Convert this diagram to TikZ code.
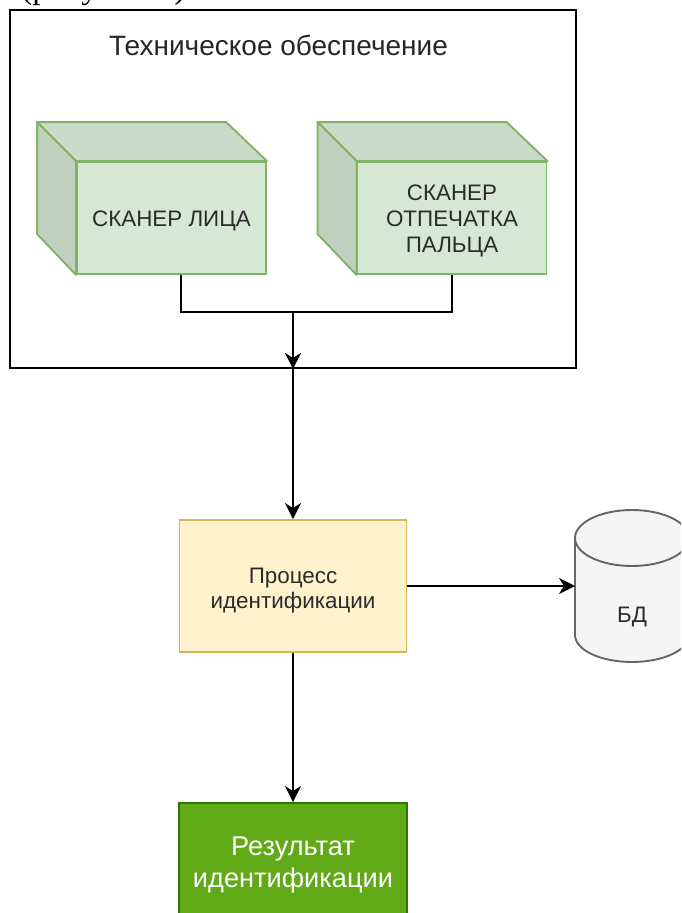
\documentclass[tikz,border=0pt]{standalone}
\usepackage{fontspec}
\setmainfont{Liberation Sans}
\newfontfamily\captionserif{Liberation Serif}
\usetikzlibrary{arrows.meta,calc}

\definecolor{cubeFill}{HTML}{D5E8D4}
\definecolor{cubeTop}{HTML}{CADCC9}
\definecolor{cubeSide}{HTML}{C0D1BF}
\definecolor{cubeLine}{HTML}{82B366}
\definecolor{procFill}{HTML}{FFF2CC}
\definecolor{procLine}{HTML}{D6B656}
\definecolor{resFill}{HTML}{60A917}
\definecolor{resLine}{HTML}{2D7600}
\definecolor{dbFill}{HTML}{F5F5F5}
\definecolor{dbLine}{HTML}{666666}
\definecolor{labelText}{HTML}{2B2B2B}

\begin{document}
\begin{tikzpicture}[x=1pt,y=1pt,
  frame/.style={draw=black, line width=1.9pt, minimum width=566pt, minimum height=358pt, inner sep=0},
  cubefront/.style={draw=cubeLine, fill=cubeFill, line width=1.9pt, minimum width=189pt, minimum height=112pt, inner sep=0},
  cubetop/.style={draw=cubeLine, fill=cubeTop, line width=1.9pt, line join=round},
  cubeside/.style={draw=cubeLine, fill=cubeSide, line width=1.9pt, line join=round},
  procbox/.style={draw=procLine, fill=procFill, line width=1.9pt, minimum width=227pt, minimum height=132pt, inner sep=0},
  resbox/.style={draw=resLine, fill=resFill, line width=1.9pt, minimum width=228pt, minimum height=121pt, inner sep=0},
  lbl/.style={text=labelText, inner sep=0, font=\fontsize{22.4}{26}\selectfont},
  titletext/.style={text=black!85, inner sep=0, font=\fontsize{28}{32}\selectfont},
  restext/.style={text=white, inner sep=0, font=\fontsize{27.2}{32}\selectfont},
  wire/.style={draw=black, line width=1.9pt},
  arrowwire/.style={wire, -{Stealth[length=16pt, width=16pt, inset=5pt]}},
]
\useasboundingbox (0,0) rectangle (681,-913);
\clip (0,0) rectangle (681,-913);

% caption line of the surrounding text, cut by the top edge
\node[anchor=base west, inner sep=0, font=\captionserif\fontsize{33.5}{38}\selectfont] (caption) at (21,1.5) {(рисунок 3).};

% hardware frame
\node[frame] (tech) at (293,-189) {};
\node[titletext, anchor=base] (title) at (278.5,-55) {Техническое обеспечение};

% face scanner cube
\node[cubefront] (face) at (171.5,-218) {};
\path[cubetop] (face.north west) -- ++(-39,39) -- ++(189,0) -- (face.north east) -- cycle;
\path[cubeside] (face.north west) -- ++(-39,39) -- ++(0,-112) -- (face.south west) -- cycle;
\node[lbl, anchor=base] (facetxt) at (171.5,-226) {СКАНЕР ЛИЦА};

% fingerprint scanner cube
\node[cubefront] (finger) at (452,-218) {};
\path[cubetop] (finger.north west) -- ++(-39,39) -- ++(189,0) -- (finger.north east) -- cycle;
\path[cubeside] (finger.north west) -- ++(-39,39) -- ++(0,-112) -- (finger.south west) -- cycle;
\node[lbl, anchor=base] (fingertxt1) at (452,-200) {СКАНЕР};
\node[lbl, anchor=base] (fingertxt2) at (452,-226) {ОТПЕЧАТКА};
\node[lbl, anchor=base] (fingertxt3) at (452,-252) {ПАЛЬЦА};

% identification process
\node[procbox] (proc) at (293,-586) {};
\node[lbl, anchor=base] (proctxt1) at (293,-583) {Процесс};
\node[lbl, anchor=base] (proctxt2) at (293,-608) {идентификации};

% database cylinder
\path[draw=dbLine, fill=dbFill, line width=1.9pt]
  (575,-538) -- (575,-635) arc (180:360:57pt and 27pt) -- (689,-538)
  arc (0:180:57pt and 28pt) -- cycle;
\draw[dbLine, line width=1.9pt] (575,-538) arc (180:360:57pt and 28pt);
\coordinate (dbin) at (575,-586);
\node[lbl, anchor=base] (db) at (632,-622) {БД};

% result
\node[resbox] (res) at (293,-863.5) {};
\node[restext, anchor=base] (restxt1) at (293,-855) {Результат};
\node[restext, anchor=base] (restxt2) at (293,-887) {идентификации};

% connectors
\coordinate (join) at (293,-312);
\draw[wire] ($(face.south)+(9.5,0)$) |- (join);
\draw[wire] (finger.south) |- (join);
\draw[arrowwire] (join) -- (tech.south);
\draw[arrowwire] (tech.south) -- (proc.north);
\draw[arrowwire] (proc.east) -- (dbin);
\draw[arrowwire] (proc.south) -- (res.north);
\end{tikzpicture}
\end{document}
